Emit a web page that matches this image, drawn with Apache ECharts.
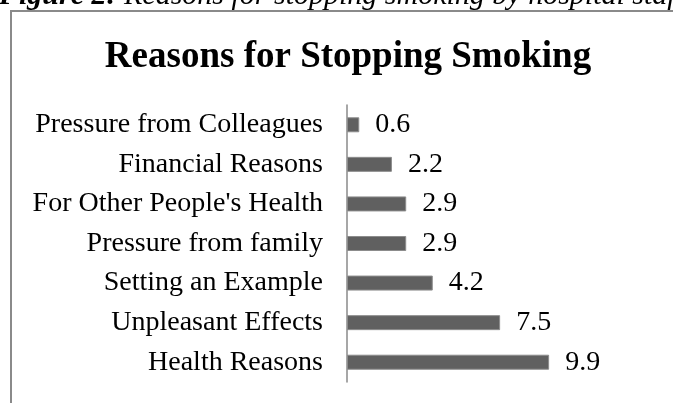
<!DOCTYPE html>
<html>
<head>
<meta charset="utf-8">
<script src="https://cdn.jsdelivr.net/npm/echarts@6/dist/echarts.min.js"></script>
<style>
  html, body { margin: 0; padding: 0; background: #fff; }
  #chart { width: 673px; height: 403px; }
</style>
</head>
<body>
<div id="chart"></div>
<script>
// Reasons, listed top to bottom as they appear on the axis
const reasons = [
  'Pressure from Colleagues',
  'Financial Reasons',
  "For Other People's Health",
  'Pressure from family',
  'Setting an Example',
  'Unpleasant Effects',
  'Health Reasons'
];
const percentages = [0.6, 2.2, 2.9, 2.9, 4.2, 7.5, 9.9];

const chartTitle = 'Reasons for Stopping Smoking';
const captionLead = 'Figure 2:';
const captionRest = ' Reasons for stopping smoking by hospital staff';

const serif = '"Liberation Serif", "Times New Roman", serif';

const chart = echarts.init(document.getElementById('chart'), null, { renderer: 'canvas' });

chart.setOption({
  backgroundColor: '#ffffff',
  animation: false,
  title: {
    text: chartTitle,
    left: 343,
    textAlign: 'center',
    top: 34,
    textStyle: {
      fontFamily: serif,
      fontWeight: 'bold',
      fontSize: 37,
      color: '#000'
    }
  },
  graphic: [
    {
      type: 'rect',
      shape: { x: 11, y: 11, width: 700, height: 420 },
      style: { fill: 'none', stroke: '#8a8a8a', lineWidth: 2 },
      silent: true,
      z: 0
    },
    {
      type: 'text',
      x: -1,
      y: 11,
      style: {
        rich: {
          b: { fontFamily: serif, fontStyle: 'italic', fontWeight: 'bold', fontSize: 30, fill: '#000' },
          i: { fontFamily: serif, fontStyle: 'italic', fontSize: 30, fill: '#000' }
        },
        text: '{b|' + captionLead + '}{i|' + captionRest + '}',
        verticalAlign: 'bottom'
      },
      silent: true
    }
  ],
  grid: { left: 347, right: 81, top: 105, bottom: 21 },
  xAxis: {
    type: 'value',
    min: 0,
    max: 12,
    show: false,
    splitLine: { show: false }
  },
  yAxis: {
    type: 'category',
    data: reasons,
    inverse: true,
    axisTick: { show: false },
    axisLine: { show: true, lineStyle: { color: '#8a8a8a', width: 1.5 } },
    axisLabel: {
      margin: 24,
      fontFamily: serif,
      fontSize: 28,
      color: '#000'
    }
  },
  series: [
    {
      type: 'bar',
      data: percentages,
      barWidth: 15,
      itemStyle: { color: '#606060', borderColor: '#8c8c8c', borderWidth: 1 },
      label: {
        show: true,
        position: 'right',
        distance: 16,
        fontFamily: serif,
        fontSize: 28,
        color: '#000'
      }
    }
  ]
});
</script>
</body>
</html>
